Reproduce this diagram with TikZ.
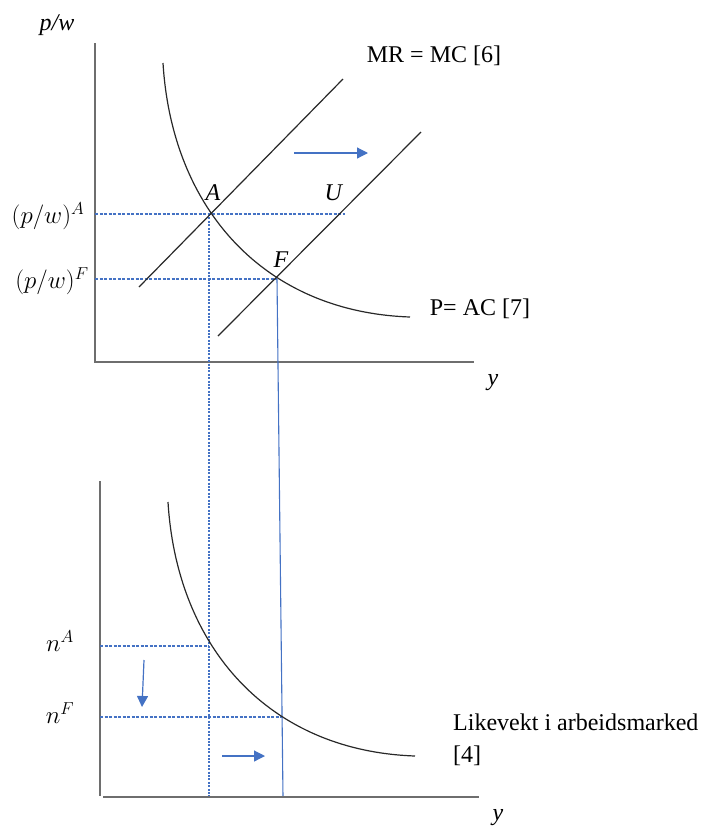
\documentclass[tikz,border=0pt]{standalone}
\usepackage{fontspec}
\setmainfont{Liberation Serif}
\usetikzlibrary{arrows.meta}
\definecolor{lineblue}{RGB}{68,114,196}
\definecolor{curvecol}{RGB}{40,40,40}
\definecolor{axisgray}{RGB}{110,110,110}
\begin{document}
\begin{tikzpicture}[x=1pt,y=-1pt,
 axis/.style={draw=axisgray,line width=1.8pt},
 curveline/.style={draw=curvecol,line width=1.2pt},
 guidedash/.style={draw=lineblue,line width=1.1pt,dash pattern=on 3pt off 1.5pt},
 guidedot/.style={draw=lineblue,line width=1.3pt,dash pattern=on 2pt off 1.4pt},
 guidesolid/.style={draw=lineblue,line width=1.1pt},
 shiftarrow/.style={draw=lineblue,line width=1.2pt,-{Triangle[length=11pt,width=11pt]}},
 lbl/.style={font=\fontsize{24}{28}\selectfont,inner sep=0pt},
 mlbl/.style={font=\fontsize{25}{29}\selectfont,inner sep=0pt},
]
\useasboundingbox (0,0) rectangle (701,828);

% ---------- top panel ----------
\coordinate (tTop) at (95,43);
\coordinate (tO) at (95,362);
\coordinate (tEnd) at (474,362);
\draw[axis] (tTop) -- (tO) -- (tEnd);
\node[lbl] (pwlab) at (57,25) {\textit{p/w}};
\node[lbl] (ytop) at (493,383) {\textit{y}};

\coordinate (A) at (209,214);
\coordinate (F) at (277,279);
\coordinate (m1s) at (139,287);
\coordinate (m1e) at (343,79);
\coordinate (m2s) at (218,336);
\coordinate (m2e) at (421,132);
\coordinate (yA) at (95,214);
\coordinate (Uend) at (345,214);
\coordinate (yF) at (95,279);
\coordinate (Abot) at (209,797);
\coordinate (Fbot) at (283,797);

\draw[guidedash] (yA) -- (Uend);
\draw[guidedash] (yF) -- (F);
\draw[guidedot] (A) -- (Abot);
\draw[guidesolid] (F) -- (Fbot);

\coordinate (acS) at (163,63);
\coordinate (acC1) at (172,210);
\coordinate (acC2) at (265,312);
\coordinate (acE) at (410,317);
\draw[curveline] (acS) .. controls (acC1) and (acC2) .. (acE);
\draw[curveline] (m1s) -- (m1e);
\draw[curveline] (m2s) -- (m2e);

\node[mlbl] (pwA) at (48,216) {$(p/w)^A$};
\node[mlbl] (pwF) at (52,281) {$(p/w)^F$};
\node[lbl] (labA) at (213,193) {\textit{A}};
\node[lbl] (labU) at (334,193) {\textit{U}};
\node[lbl] (labF) at (281,260) {\textit{F}};
\node[lbl] (mrmc) at (434,56) {MR = MC [6]};
\node[lbl] (pac) at (480,309) {P= AC [7]};

\coordinate (ta1) at (294,153);
\coordinate (ta2) at (368,153);
\draw[shiftarrow] (ta1) -- (ta2);

% ---------- bottom panel ----------
\coordinate (bTop) at (100,481);
\coordinate (bO) at (100,796);
\coordinate (bS) at (103,797);
\coordinate (bEnd) at (479,797);
\draw[axis] (bTop) -- (bO);
\draw[axis] (bS) -- (bEnd);
\node[lbl] (ybot) at (498,818) {\textit{y}};

\coordinate (nAl) at (100,646);
\coordinate (nAr) at (209,646);
\coordinate (nFl) at (100,717);
\coordinate (nFr) at (282,717);
\draw[guidedash] (nAl) -- (nAr);
\draw[guidedash] (nFl) -- (nFr);

\coordinate (lmS) at (168,502);
\coordinate (lmC1) at (177,649);
\coordinate (lmC2) at (270,751);
\coordinate (lmE) at (415,756);
\draw[curveline] (lmS) .. controls (lmC1) and (lmC2) .. (lmE);

\node[mlbl] (nA) at (60,641) {$n^A$};
\node[mlbl] (nF) at (60,713) {$n^F$};

\coordinate (da1) at (144,660);
\coordinate (da2) at (142,707);
\draw[shiftarrow] (da1) -- (da2);
\coordinate (ra1) at (222,756);
\coordinate (ra2) at (265,756);
\draw[shiftarrow] (ra1) -- (ra2);

\node[lbl,anchor=west] (lik1) at (453,722) {Likevekt i arbeidsmarked};
\node[lbl,anchor=west] (lik2) at (453,756) {[4]};
\end{tikzpicture}
\end{document}
